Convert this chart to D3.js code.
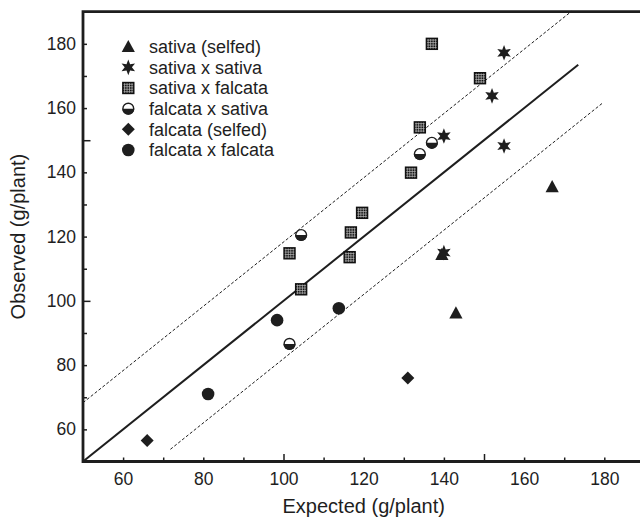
<!DOCTYPE html>
<html><head><meta charset="utf-8">
<script src="https://cdn.jsdelivr.net/npm/d3@7"></script>
<style>body{margin:0;background:#fff}svg{display:block}</style>
</head><body>
<script>
// ---- data ----
const legendLabels = ["sativa (selfed)","sativa x sativa","sativa x falcata","falcata x sativa","falcata (selfed)","falcata x falcata"];
const xTicks = [60,70,80,90,100,110,120,130,140,150,160,170,180];
const yTicks = [60,70,80,90,100,110,120,130,140,150,160,170,180];
const sativaSelfedX = [167, 143, 139.5];
const sativaSelfedY = [135.5, 96.2, 114.4];
const sativaSativaX = [155, 152, 140, 155, 140];
const sativaSativaY = [177.2, 163.8, 151.3, 148.2, 115];
const sativaFalcataX = [137, 149, 134, 131.8, 119.6, 116.8, 116.5, 101.5, 104.4];
const sativaFalcataY = [180, 169.3, 154, 139.9, 127.4, 121.3, 113.6, 114.8, 103.6];
const falcataSativaX = [137, 134, 104.4, 101.5];
const falcataSativaY = [149.2, 145.7, 120.5, 86.6];
const falcataSelfedX = [66, 131];
const falcataSelfedY = [56.5, 76];
const falcataFalcataX = [81.2, 98.4, 113.8];
const falcataFalcataY = [71, 94, 97.7];
// reference lines: 1:1 line and +/- bands
const lineSolidX = [50, 173.5];
const lineOffsetUpper = 18.3, upperX = [50, 171.8];
const lineOffsetLower = -18, lowerX = [71.8, 179.5];

const W = 640, H = 523;
const svg = d3.select("body").append("svg").attr("width", W).attr("height", H);
const x = d3.scaleLinear().domain([50,190]).range([83, 644.4]);
const y = d3.scaleLinear().domain([50,190]).range([461.5, 11.7]);
const ink = "#1e1e1e";
const font = "'Liberation Sans', Arial, Helvetica, sans-serif";

// lines
const line = d3.line().x(d=>x(d[0])).y(d=>y(d[1]));
svg.append("path").attr("d", line(lineSolidX.map(v=>[v,v])))
  .attr("stroke", ink).attr("stroke-width", 2).attr("fill","none");
svg.append("path").attr("d", line(upperX.map(v=>[v,v+lineOffsetUpper])))
  .attr("stroke", ink).attr("stroke-width", 1).attr("stroke-dasharray","3,2").attr("fill","none");
svg.append("path").attr("d", line(lowerX.map(v=>[v,v+lineOffsetLower])))
  .attr("stroke", ink).attr("stroke-width", 1).attr("stroke-dasharray","3,2").attr("fill","none");

// axes
const xAxis = d3.axisBottom(x).tickValues(xTicks).tickSize(-4).tickPadding(11)
  .tickFormat(d => d % 20 === 0 ? d : "");
const yAxis = d3.axisLeft(y).tickValues(yTicks).tickSize(-4).tickPadding(7)
  .tickFormat(d => d % 20 === 0 ? d : "");
const gx = svg.append("g").attr("transform", `translate(0,${y(50)})`).call(xAxis);
const gy = svg.append("g").attr("transform", `translate(${x(50)},0)`).call(yAxis);
[gx, gy].forEach(g => {
  g.select(".domain").remove();
  g.selectAll("line").attr("stroke", ink).attr("stroke-width", 1.5);
  g.selectAll("text").attr("fill", ink).style("font-family", font).style("font-size", "17.5px");
});
gx.selectAll(".tick").filter(d => d % 50 === 0).select("line").attr("y2", -7.5);
gy.selectAll(".tick").filter(d => d % 50 === 0).select("line").attr("x2", 7.5);

// frame
svg.append("path")
  .attr("d", `M${x(190)},${y(190)}H${x(50)}V${y(50)}H${x(190)}`)
  .attr("stroke", ink).attr("stroke-width", 2.8).attr("fill","none");

// titles
svg.append("text").attr("x", (x(50)+x(190))/2).attr("y", 513).attr("text-anchor","middle")
  .attr("fill", ink).style("font-family", font).style("font-size","20px").text("Expected (g/plant)");
svg.append("text").attr("transform", `translate(25,${(y(50)+y(190))/2}) rotate(-90)`).attr("text-anchor","middle")
  .attr("fill", ink).style("font-family", font).style("font-size","20px").text("Observed (g/plant)");

// markers
function star6(r1, r2){
  const p=[]; for(let i=0;i<12;i++){const a=-Math.PI/2+i*Math.PI/6; const r=i%2?r2:r1; p.push([r*Math.cos(a), r*Math.sin(a)]);}
  return "M"+p.map(q=>q.join(",")).join("L")+"Z";
}
function drawMarker(g, type){
  if(type===0){ g.append("path").attr("d","M0,-6.8L6.6,5.4L-6.6,5.4Z").attr("fill",ink); }
  else if(type===1){ g.append("path").attr("d", star6(7.8,3.6)).attr("fill",ink); }
  else if(type===2){
    const s=6.2;
    g.append("rect").attr("x",-s).attr("y",-s).attr("width",2*s).attr("height",2*s).attr("fill","#111");
    let d=""; for(let k=1;k<5;k++){const t=-s+k*2*s/5; d+=`M${t},${-s+1.4}V${s-1.4}M${-s+1.4},${t}H${s-1.4}`;}
    g.append("path").attr("d",d).attr("stroke","#bbb").attr("stroke-width",0.7);
  }
  else if(type===3){
    const r=6;
    g.append("path").attr("d",`M${-r},0A${r},${r} 0 0,0 ${r},0Z`).attr("fill",ink);
    g.append("circle").attr("r",r-0.6).attr("fill","none").attr("stroke",ink).attr("stroke-width",1.4);
  }
  else if(type===4){ g.append("path").attr("d","M0,-6.5L6.5,0L0,6.5L-6.5,0Z").attr("fill",ink); }
  else if(type===5){ g.append("circle").attr("r",6.3).attr("fill",ink); }
}
const series = [
  [sativaSelfedX, sativaSelfedY],
  [sativaSativaX, sativaSativaY],
  [sativaFalcataX, sativaFalcataY],
  [falcataSativaX, falcataSativaY],
  [falcataSelfedX, falcataSelfedY],
  [falcataFalcataX, falcataFalcataY]
];
const drawOrder = [2,3,5,4,0,1];
drawOrder.forEach(si => {
  const [xs, ys] = series[si];
  xs.forEach((xv,i) => {
    const g = svg.append("g").attr("transform", `translate(${x(xv)},${y(ys[i])})`);
    drawMarker(g, si);
  });
});

// legend
const leg = svg.append("g");
legendLabels.forEach((lab,i) => {
  const cy = 46.7 + i*20.65;
  drawMarker(leg.append("g").attr("transform", `translate(128.3,${cy})`), i);
  leg.append("text").attr("x",149).attr("y",cy).attr("dy","0.36em").attr("fill",ink)
    .style("font-family",font).style("font-size","18px").text(lab);
});
</script>
</body></html>
